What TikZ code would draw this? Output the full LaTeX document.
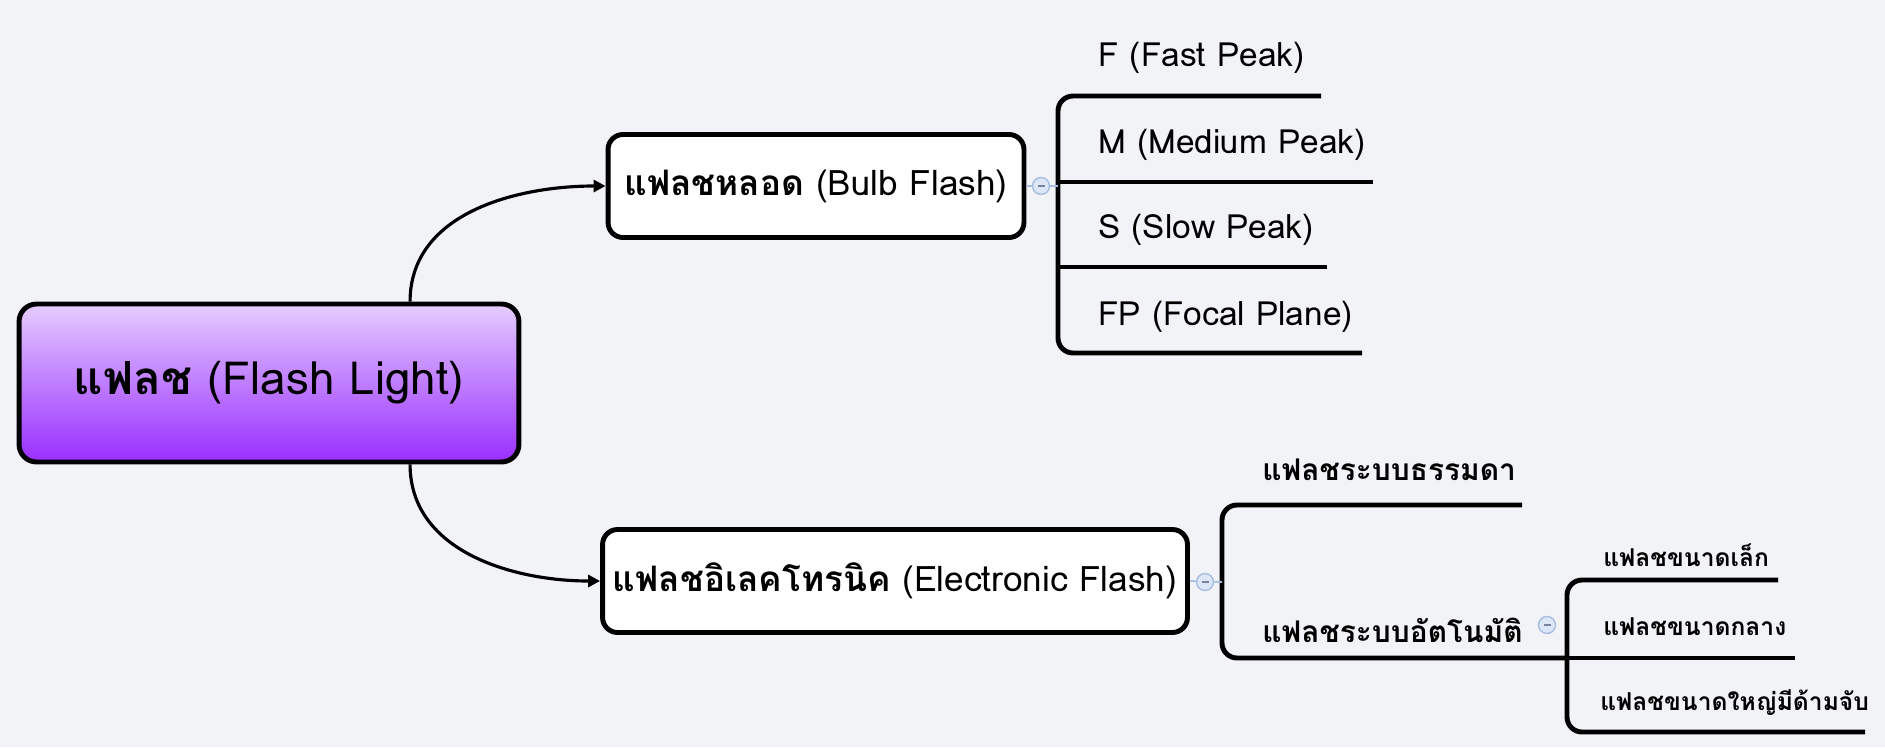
\documentclass[tikz,border=0pt]{standalone}
\usepackage{fontspec}
\setmainfont[Script=Thai]{Loma}
\usepackage{tikz}
\usetikzlibrary{arrows.meta}

\definecolor{canvas}{HTML}{F2F3F7}
\definecolor{rootTop}{HTML}{E4CCFF}
\definecolor{rootBottom}{HTML}{9A2EFF}
\definecolor{knobFill}{HTML}{DCE6F6}
\definecolor{knobLine}{HTML}{A8BDE2}

\begin{document}
\begin{tikzpicture}[x=0.02cm,y=-0.02cm,
        topic/.style = {draw, fill=white,
            rounded corners=0.3cm,
            line width=2.8pt,
            minimum height=2.06cm,
            font=\fontsize{20}{24}\selectfont},
        root/.style = {topic,
            rounded corners=0.35cm,
            minimum width=10cm,
            minimum height=3.16cm,
            top color=rootTop, bottom color=rootBottom,
            font=\fontsize{26}{30}\selectfont},
        leaf/.style = {anchor=west, inner sep=0pt,
            font=\fontsize{19}{22}\selectfont},
        thaileaf/.style = {leaf, font=\fontsize{17}{20}\selectfont\bfseries},
        smallleaf/.style = {leaf, font=\fontsize{14}{17}\selectfont\bfseries},
        bracket/.style = {line width=2.8pt, rounded corners=0.3cm},
        link/.style = {line width=1.8pt, -{Triangle[length=0.24cm,width=0.24cm]}},
        knob/.style = {circle, draw=knobLine, fill=knobFill,
            minimum size=0.34cm, inner sep=0pt, line width=0.8pt,
            path picture={\draw[knobLine!70!black, line width=0.7pt]
                ([xshift=0.1cm]path picture bounding box.west) -- ([xshift=-0.1cm]path picture bounding box.east);}}]

        % Canvas
        \path[use as bounding box, fill=canvas] (0,0) rectangle (1885,747);

        % Main topic
        \node[root] (flash) at (269,383) {{\bfseries แฟลช} (Flash Light)};

        % Sub topics
        \node[topic, minimum width=8.32cm] (bulb) at (816,186) {{\bfseries แฟลชหลอด} (Bulb Flash)};
        \node[topic, minimum width=11.7cm] (electronic) at (895,581) {{\bfseries แฟลชอิเลคโทรนิค} (Electronic Flash)};

        % Curved links
        \draw[link] (flash.30) to[out=90,in=180] (bulb.west);
        \draw[link] (flash.-30) to[out=-90,in=180] (electronic.west);

        % Bulb flash types
        \node[leaf] (fast) at (1098,58) {F (Fast Peak)};
        \node[leaf] (medium) at (1098,145) {M (Medium Peak)};
        \node[leaf] (slow) at (1098,230) {S (Slow Peak)};
        \node[leaf] (focal) at (1098,317) {FP (Focal Plane)};
        \coordinate (fastLine) at (1321,96);
        \coordinate (mediumLine) at (1373,182);
        \coordinate (slowLine) at (1327,267);
        \coordinate (focalLine) at (1362,353);
        \coordinate (bulbBar) at (1058,186);

        \draw[bracket] (fastLine) -- (fastLine -| bulbBar) -- (focalLine -| bulbBar) -- (focalLine);
        \draw[bracket] (mediumLine -| bulbBar) -- (mediumLine);
        \draw[bracket] (slowLine -| bulbBar) -- (slowLine);
        \draw[knobLine, line width=1pt] (bulb.east) -- (bulbBar);
        \node[knob] (bulbKnob) at (1041,186) {};

        % Electronic flash types
        \node[thaileaf] (normal) at (1262,470) {แฟลชระบบธรรมดา};
        \node[thaileaf] (auto) at (1262,630) {แฟลชระบบอัตโนมัติ};
        \coordinate (normalLine) at (1522,505);
        \coordinate (autoBar) at (1567,658);
        \coordinate (electronicBar) at (1222,582);

        \draw[bracket] (normalLine) -- (normalLine -| electronicBar) -- (autoBar -| electronicBar) -- (autoBar);
        \draw[knobLine, line width=1pt] (electronic.east) -- (electronicBar);
        \node[knob] (electronicKnob) at (1205,582) {};

        % Automatic flash sizes
        \node[smallleaf] (small) at (1603,555) {แฟลชขนาดเล็ก};
        \node[smallleaf] (middle) at (1603,627) {แฟลชขนาดกลาง};
        \node[smallleaf] (large) at (1600,703) {แฟลชขนาดใหญ่มีด้ามจับ};
        \coordinate (smallLine) at (1778,580);
        \coordinate (middleLine) at (1795,658);
        \coordinate (largeLine) at (1865,732);

        \draw[bracket] (smallLine) -- (smallLine -| autoBar) -- (largeLine -| autoBar) -- (largeLine);
        \draw[bracket] (autoBar) -- (middleLine);
        \node[knob] (autoKnob) at (1547,625) {};

    \end{tikzpicture}
\end{document}
